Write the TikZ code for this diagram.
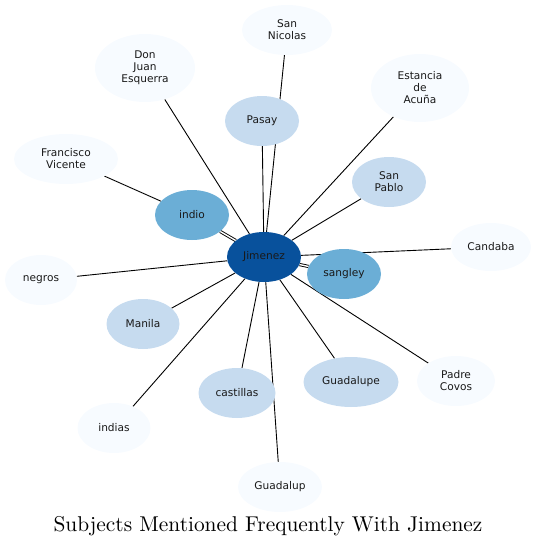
\documentclass[tikz,border=0pt]{standalone}
\usepackage{fontspec}
\usepackage{tikz}
\usetikzlibrary{shapes.geometric,backgrounds}
\newfontfamily\nodefont{DejaVu Sans}
\newfontfamily\titlefont{lmroman10-regular.otf}
\definecolor{blueA}{HTML}{08519C}
\definecolor{blueB}{HTML}{6BAED6}
\definecolor{blueC}{HTML}{C6DBEF}
\definecolor{blueD}{HTML}{F7FBFF}

\begin{document}
\begin{tikzpicture}[
  x=1pt, y=-1pt,
  subj/.style={ellipse, inner sep=0pt, align=center, text=black!90,
    font=\nodefont\fontsize{10.6}{12}\selectfont, minimum width=74pt, minimum height=50pt},
  hub/.style={subj, fill=blueA},
  strong/.style={subj, fill=blueB},
  mid/.style={subj, fill=blueC},
  weak/.style={subj, fill=blueD},
  link/.style={line width=0.9pt, black},
  twin/.style={link, double=white, double distance=1.4pt}
]
\useasboundingbox (0,0) rectangle (537,547);
% centre
\node[hub] (jimenez) at (264,257) {Jimenez};
% ring of subjects
\node[strong] (indio) at (192,215) {indio};
\node[strong] (sangley) at (344,274) {sangley};
\node[mid] (pasay) at (262,121) {Pasay};
\node[mid] (sanpablo) at (389,182) {San\\Pablo};
\node[mid] (manila) at (143,324) [minimum width=73pt] {Manila};
\node[mid] (castillas) at (237,393) [minimum width=77pt] {castillas};
\node[mid] (guadalupe) at (351,382) [minimum width=95pt] {Guadalupe};
\node[weak] (sannicolas) at (287,30) [minimum width=90pt] {San\\Nicolas};
\node[weak] (donjuan) at (145,68) [minimum width=100pt, minimum height=68pt] {Don\\Juan\\Esquerra};
\node[weak] (estancia) at (420,88) [minimum width=98pt, minimum height=68pt] {Estancia\\de\\Acuña};
\node[weak] (candaba) at (491,247) [minimum width=80pt, minimum height=48pt] {Candaba};
\node[weak] (francisco) at (66,159) [minimum width=104pt] {Francisco\\Vicente};
\node[weak] (negros) at (41,280) [minimum width=72pt] {negros};
\node[weak] (indias) at (114,428) [minimum width=73pt] {indias};
\node[weak] (padrecovos) at (456,381) [minimum width=78pt] {Padre\\Covos};
\node[weak] (guadalup) at (280,487) [minimum width=84pt] {Guadalup};
% title
\node[font=\titlefont\fontsize{21.4}{25}\selectfont, anchor=base] (title) at (268,531) {Subjects Mentioned Frequently With Jimenez};

\begin{pgfonlayer}{background}
\draw[twin] (jimenez) -- (indio);
\draw[twin] (jimenez) -- (sangley);
\draw[link] (indio) -- (francisco);
\draw[link] (jimenez) -- (pasay);
\draw[link] (jimenez) -- (sannicolas);
\draw[link] (jimenez) -- (donjuan);
\draw[link] (jimenez) -- (estancia);
\draw[link] (jimenez) -- (sanpablo);
\draw[link] (jimenez) -- (candaba);
\draw[link] (jimenez) -- (negros);
\draw[link] (jimenez) -- (manila);
\draw[link] (jimenez) -- (indias);
\draw[link] (jimenez) -- (castillas);
\draw[link] (jimenez) -- (guadalup);
\draw[link] (jimenez) -- (guadalupe);
\draw[link] (jimenez) -- (padrecovos);
\end{pgfonlayer}
\end{tikzpicture}
\end{document}
